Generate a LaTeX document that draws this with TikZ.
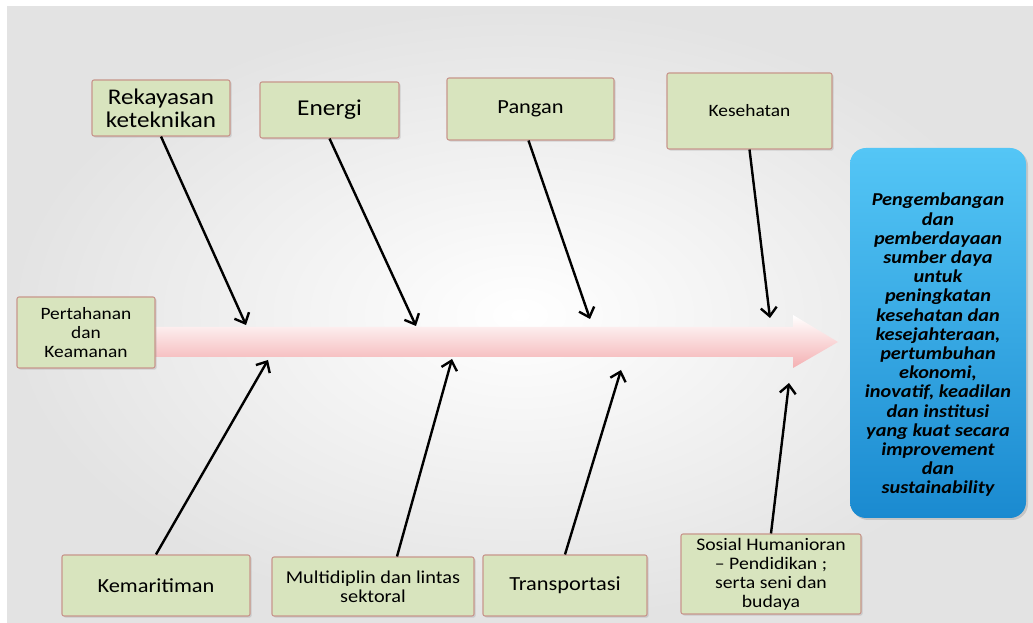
\documentclass[tikz,border=0pt]{standalone}
\usepackage{fontspec}
\setmainfont{Carlito}[FakeStretch=1.12]
\usetikzlibrary{arrows.meta,shadows}
\definecolor{boxfill}{RGB}{216,228,190}
\definecolor{boxline}{RGB}{200,150,140}
\definecolor{bluetop}{RGB}{84,198,246}
\definecolor{bluebot}{RGB}{26,138,208}
\definecolor{spinepink}{RGB}{244,176,178}

\begin{document}
\begin{tikzpicture}[x=0.75pt,y=-0.75pt,
  every node/.style={text=black},
  cat/.style={draw=boxline,fill=boxfill,line width=0.8pt,rounded corners=1.5pt,inner sep=0pt,align=center,
    drop shadow={opacity=0.25,shadow xshift=1.2pt,shadow yshift=-1.2pt}},
  bone/.style={line width=1.8pt,-{Straight Barb[length=6.5pt,width=12pt,line width=1.8pt]}}
]
% background
\fill[white] (0,0) rectangle (1033,623);
\shade[inner color=white,outer color=gray!22] (7,7) rectangle (1033,623);

% spine
\shade[top color=white,middle color=spinepink!70,bottom color=spinepink]
  (155,327) -- (793,327) -- (793,315) -- (838,342) -- (793,368) -- (793,357) -- (155,357) -- cycle;

% causes
\node[cat,minimum width=103.5pt,minimum height=42pt,font=\fontsize{16.8}{17.3}\selectfont] (rek) at (161,108) {Rekayasan\\keteknikan};
\node[cat,minimum width=104.25pt,minimum height=42pt,font=\fontsize{17}{18}\selectfont] (ene) at (329.5,110) {Energi};
\node[cat,minimum width=125.25pt,minimum height=46.5pt,font=\fontsize{15}{17}\selectfont] (pan) at (530.5,109) {Pangan};
\node[cat,minimum width=123.75pt,minimum height=57pt,font=\fontsize{13}{15}\selectfont] (kes) at (749.5,111) {Kesehatan};
\node[cat,minimum width=103.5pt,minimum height=53.25pt,font=\fontsize{13}{14.3}\selectfont] (per) at (86,332.5) {Pertahanan\\dan\\Keamanan};
\node[cat,minimum width=141pt,minimum height=45.75pt,font=\fontsize{15}{17}\selectfont] (kem) at (156,585.5) {Kemaritiman};
\node[cat,minimum width=151.5pt,minimum height=44.25pt,font=\fontsize{13.6}{14.5}\selectfont] (mul) at (373,586.5) {Multidiplin dan lintas\\sektoral};
\node[cat,minimum width=123pt,minimum height=45.75pt,font=\fontsize{15}{17}\selectfont] (tra) at (565,585.5) {Transportasi};
\node[cat,minimum width=135pt,minimum height=60pt,font=\fontsize{13.2}{14.3}\selectfont] (sos) at (771,574) {Sosial Humanioran\\-- Pendidikan ;\\serta seni dan\\budaya};

% effect
\node[draw=none,rounded corners=12pt,top color=bluetop,bottom color=bluebot,minimum width=132pt,minimum height=277.5pt,
  drop shadow={opacity=0.3,shadow xshift=1.5pt,shadow yshift=-1.5pt}] (goal) at (938,333) {};
\node[align=center,font=\bfseries\itshape\fontsize{13.6}{14.4}\selectfont] (goaltxt) at (938,345)
  {Pengembangan\\dan\\pemberdayaan\\sumber daya\\untuk\\peningkatan\\kesehatan dan\\kesejahteraan,\\pertumbuhan\\ekonomi,\\inovatif, keadilan\\dan institusi\\yang kuat secara\\improvement\\dan\\sustainability};

% bones
\coordinate (t1) at (246,325);
\coordinate (t2) at (416,326);
\coordinate (t3) at (590,319);
\coordinate (t4) at (770,318);
\coordinate (b1) at (268,360);
\coordinate (b2) at (452,359);
\coordinate (b3) at (621,370);
\coordinate (b4) at (789,383);
\draw[bone] (rek.south) -- (t1);
\draw[bone] (ene.south) -- (t2);
\draw[bone] ([xshift=-1.5pt]pan.south) -- (t3);
\draw[bone] (kes.south) -- (t4);
\draw[bone] (kem.north) -- (b1);
\draw[bone] ([xshift=18pt]mul.north) -- (b2);
\draw[bone] (tra.north) -- (b3);
\draw[bone] (sos.north) -- (b4);
\end{tikzpicture}
\end{document}
